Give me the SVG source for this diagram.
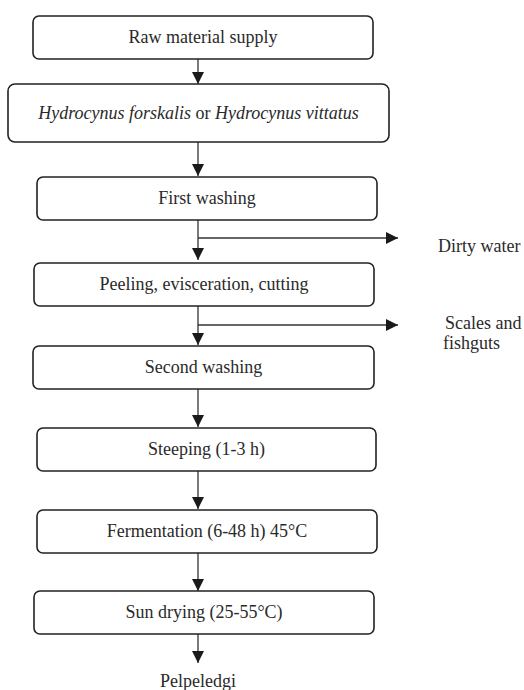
<svg xmlns="http://www.w3.org/2000/svg" width="524" height="690" viewBox="0 0 524 690">
<style>
.box{fill:#fff;stroke:#222;stroke-width:1.6}
.t{font-family:"Liberation Serif","Times New Roman",serif;font-size:18px;fill:#2a2a2a}
.c{text-anchor:middle}
.ln{stroke:#333;stroke-width:1.3;fill:none}
</style>
<defs>
<marker id="ah" viewBox="0 0 12 12" refX="12" refY="6" markerWidth="12" markerHeight="12" markerUnits="userSpaceOnUse" orient="auto">
<path d="M0,0 L12,6 L0,12 Z" fill="#1a1a1a"/>
</marker>
</defs>
<g id="connectors">
<line class="ln" x1="198" y1="59" x2="198" y2="84" marker-end="url(#ah)"/>
<line class="ln" x1="198" y1="142" x2="198" y2="176" marker-end="url(#ah)"/>
<line class="ln" x1="198" y1="220" x2="198" y2="260" marker-end="url(#ah)"/>
<line class="ln" x1="198" y1="238" x2="398" y2="238" marker-end="url(#ah)"/>
<line class="ln" x1="198" y1="306" x2="198" y2="345" marker-end="url(#ah)"/>
<line class="ln" x1="198" y1="325" x2="398" y2="325" marker-end="url(#ah)"/>
<line class="ln" x1="198" y1="389" x2="198" y2="427" marker-end="url(#ah)"/>
<line class="ln" x1="198" y1="471" x2="198" y2="509" marker-end="url(#ah)"/>
<line class="ln" x1="198" y1="553" x2="198" y2="591" marker-end="url(#ah)"/>
<line class="ln" x1="198" y1="634" x2="198" y2="663" marker-end="url(#ah)"/>
</g>
<g id="n1"><rect class="box" x="33" y="16" width="340" height="43" rx="6"/><text class="t c" x="203" y="43">Raw material supply</text></g>
<g id="n2"><rect class="box" x="8" y="84" width="381" height="58" rx="7"/><text class="t c" x="198.5" y="119"><tspan font-style="italic">Hydrocynus forskalis</tspan> or <tspan font-style="italic">Hydrocynus vittatus</tspan></text></g>
<g id="n3"><rect class="box" x="37" y="177" width="340" height="43" rx="6"/><text class="t c" x="207" y="204">First washing</text></g>
<g id="n4"><rect class="box" x="34" y="263" width="340" height="43" rx="6"/><text class="t c" x="204" y="290">Peeling, evisceration, cutting</text></g>
<g id="n5"><rect class="box" x="33" y="346" width="341" height="43" rx="6"/><text class="t c" x="203.5" y="373">Second washing</text></g>
<g id="n6"><rect class="box" x="37" y="428" width="339" height="43" rx="6"/><text class="t c" x="206.5" y="455">Steeping (1-3 h)</text></g>
<g id="n7"><rect class="box" x="37" y="510" width="340" height="43" rx="6"/><text class="t c" x="207" y="537">Fermentation (6-48 h) 45°C</text></g>
<g id="n8"><rect class="box" x="34" y="591" width="340" height="43" rx="6"/><text class="t c" x="204" y="618">Sun drying (25-55°C)</text></g>
<g id="out-dirty"><text class="t" x="438" y="252">Dirty water</text></g>
<g id="out-scales"><text class="t" x="445" y="329">Scales and</text><text class="t" x="443" y="349">fishguts</text></g>
<g id="out-final"><text class="t c" x="198" y="687">Pelpeledgi</text></g>
</svg>
